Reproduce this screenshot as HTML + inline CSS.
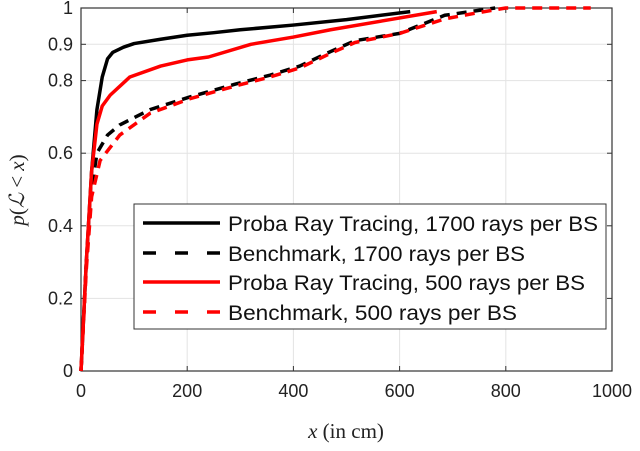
<!DOCTYPE html>
<html><head><meta charset="utf-8"><style>
body{margin:0;background:#fff}
svg text{font-family:"Liberation Sans",sans-serif}
</style></head><body>
<svg id="chart" width="640" height="446" xmlns="http://www.w3.org/2000/svg"></svg>
<script>
const xTicks=[0,200,400,600,800,1000];
const yTicks=[0,0.2,0.4,0.6,0.8,0.9,1];
const yTickLabels=["0","0.2","0.4","0.6","0.8","0.9","1"];
const seriesNames=["Proba Ray Tracing, 1700 rays per BS","Benchmark, 1700 rays per BS","Proba Ray Tracing, 500 rays per BS","Benchmark, 500 rays per BS"];
const probaX1700=[0,10,20,30,40,50,60,80,100,150,200,250,300,400,500,620];
const probaY1700=[0,0.3,0.55,0.72,0.81,0.86,0.878,0.892,0.902,0.914,0.925,0.932,0.94,0.953,0.968,0.99];
const benchX1700=[0,10,20,30,50,73,130,205,290,356,412,470,516,600,685,733,780];
const benchY1700=[0,0.3,0.5,0.6,0.65,0.678,0.72,0.755,0.79,0.815,0.84,0.88,0.91,0.93,0.98,0.99,1];
const probaX500=[0,10,20,30,40,55,92,150,200,240,320,400,470,670];
const probaY500=[0,0.3,0.55,0.68,0.73,0.76,0.81,0.84,0.857,0.865,0.9,0.92,0.94,0.99];
const benchX500=[0,10,20,36,73,130,205,290,356,412,470,516,600,685,740,800,960];
const benchY500=[0,0.28,0.48,0.58,0.65,0.71,0.75,0.785,0.81,0.835,0.875,0.905,0.93,0.97,0.985,1,1];

const L=81,R=612,T=8,B=371;
const sx=v=>L+v/1000*(R-L);
const sy=v=>B-v*(B-T);
const svg=document.getElementById('chart');
const NS='http://www.w3.org/2000/svg';
function mk(tag,attrs,parent){const e=document.createElementNS(NS,tag);for(const k in attrs)e.setAttribute(k,attrs[k]);(parent||svg).appendChild(e);return e;}

mk('rect',{x:L,y:T,width:R-L,height:B-T,fill:'#fff'});
xTicks.forEach((v,i)=>{
  if(i>0&&i<xTicks.length-1){const g=mk('line',{x1:sx(v),x2:sx(v),y1:T,y2:B,stroke:'#e3e3e3','stroke-width':1});
  
  }
  const t=mk('text',{x:sx(v),y:B+26,'text-anchor':'middle','font-size':18,fill:'#222'});
  t.textContent=v;
  
  
  mk('line',{x1:sx(v),x2:sx(v),y1:B,y2:B-5,stroke:'#333'});
  mk('line',{x1:sx(v),x2:sx(v),y1:T,y2:T+5,stroke:'#333'});
});
yTicks.forEach((v,i)=>{
  if(v>0&&v<1){const g=mk('line',{x1:L,x2:R,y1:sy(v),y2:sy(v),stroke:'#e3e3e3','stroke-width':1});
  
  }
  const t=mk('text',{x:L-8,y:sy(v)+6,'text-anchor':'end','font-size':18,fill:'#222'});
  t.textContent=yTickLabels[i];
  
  
  mk('line',{x1:L,x2:L+5,y1:sy(v),y2:sy(v),stroke:'#333'});
  mk('line',{x1:R,x2:R-5,y1:sy(v),y2:sy(v),stroke:'#333'});
});
const frame=mk('rect',{x:L,y:T,width:R-L,height:B-T,fill:'none',stroke:'#333','stroke-width':1.2});



const series=[
 {xs:probaX1700,ys:probaY1700,c:'#000',d:'',n:'series-proba-1700'},
 {xs:benchX1700,ys:benchY1700,c:'#000',d:'10,7',n:'series-benchmark-1700'},
 {xs:probaX500,ys:probaY500,c:'#f00',d:'',n:'series-proba-500'},
 {xs:benchX500,ys:benchY500,c:'#f00',d:'10,7',n:'series-benchmark-500'}];
series.forEach(s=>{
  const p=mk('polyline',{points:s.xs.map((x,i)=>sx(x)+','+sy(s.ys[i])).join(' '),fill:'none',stroke:s.c,'stroke-width':3.5,'stroke-dasharray':s.d,'stroke-linejoin':'round'});
  
  
});

const lg=mk('g',{});


mk('rect',{x:134,y:204,width:472,height:125,fill:'#fff',stroke:'#333','stroke-width':1},lg);
const ly=[223,253,282,312];
const tl=[370,297,357,289];
series.forEach((s,i)=>{
  const e=mk('g',{},lg);
  
  
  mk('line',{x1:143,x2:220,y1:ly[i],y2:ly[i],stroke:s.c,'stroke-width':3.5,'stroke-dasharray':s.d?'13,19':''},e);
  const t=mk('text',{x:228,y:ly[i]+8,'font-size':21,fill:'#111',textLength:tl[i],lengthAdjust:'spacingAndGlyphs'},e);
  t.textContent=seriesNames[i];
});

const xl=mk('text',{x:346,y:438,'text-anchor':'middle','font-size':21,fill:'#222',style:'font-family:"Liberation Serif",serif'});
xl.innerHTML='<tspan font-style="italic">x</tspan> (in cm)';


const yl=mk('text',{x:0,y:0,'text-anchor':'middle','font-size':21,fill:'#222',transform:'translate(24,190) rotate(-90)',style:'font-family:"Liberation Serif",serif'});
yl.innerHTML='<tspan font-style="italic">p</tspan>(<tspan font-style="italic">ℒ</tspan> &lt; <tspan font-style="italic">x</tspan>)';


</script>
</body></html>
